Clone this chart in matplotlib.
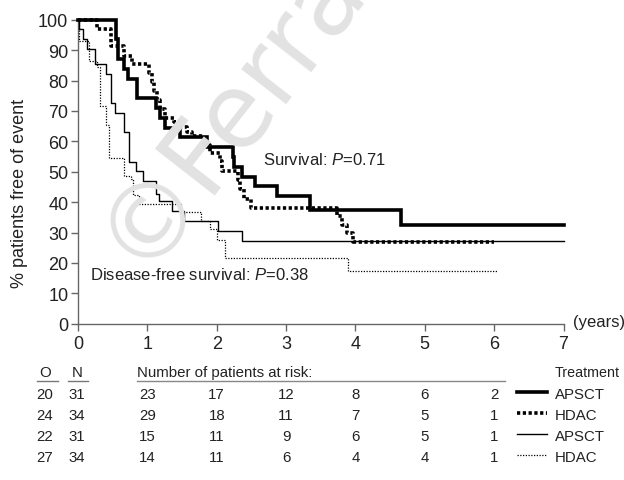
import matplotlib
matplotlib.use("Agg")
import matplotlib.pyplot as plt
import matplotlib.transforms as mtransforms
from matplotlib import font_manager

names = {f.name for f in font_manager.fontManager.ttflist}
FONT = 'Liberation Sans Narrow' if 'Liberation Sans Narrow' in names else 'Liberation Sans'
plt.rcParams['font.family'] = [FONT, 'DejaVu Sans']
plt.rcParams['mathtext.fontset'] = 'custom'
plt.rcParams['mathtext.rm'] = FONT
plt.rcParams['mathtext.it'] = FONT + ':italic'

# ---------------- data ----------------
surv_apsct_t = [0, 0.55, 0.58, 0.66, 0.72, 0.85, 1.13, 1.18, 1.25, 1.47, 1.86, 2.23, 2.25, 2.36, 2.55, 2.87, 3.34, 4.66]
surv_apsct_s = [100, 93.5, 87.1, 83.9, 80.6, 74.2, 71.0, 67.7, 64.5, 61.3, 58.1, 54.8, 51.6, 48.4, 45.2, 41.9, 37.4, 32.5]
surv_apsct_end = 7.0

surv_hdac_t = [0, 0.27, 0.47, 0.66, 0.78, 1.02, 1.06, 1.10, 1.14, 1.18, 1.25, 1.38, 1.48, 1.57, 1.64, 1.82, 1.90, 2.05, 2.08, 2.30, 2.33, 2.40, 2.50, 3.73, 3.80, 3.88, 3.96]
surv_hdac_s = [100, 97.1, 91.2, 88.2, 85.3, 82.4, 79.4, 76.5, 73.5, 70.6, 67.6, 66.5, 64.8, 63.2, 61.8, 58.9, 56.2, 53.4, 50.3, 47.2, 44.2, 41.1, 38.1, 35.4, 32.6, 29.7, 26.8]
surv_hdac_end = 6.0

dfs_apsct_t = [0, 0.02, 0.07, 0.13, 0.24, 0.41, 0.48, 0.53, 0.67, 0.73, 0.84, 0.93, 1.12, 1.17, 1.36, 1.53, 2.02, 2.36]
dfs_apsct_s = [100, 96.8, 93.5, 90.3, 85.4, 82.2, 72.6, 69.3, 63.0, 53.2, 50.3, 47.0, 42.7, 40.5, 37.2, 33.9, 30.6, 27.3]
dfs_apsct_end = 7.0

dfs_hdac_t = [0, 0.02, 0.16, 0.27, 0.32, 0.40, 0.45, 0.67, 0.76, 0.80, 0.88, 1.48, 1.77, 1.90, 2.00, 2.12, 3.89]
dfs_hdac_s = [100, 93.0, 86.5, 84.3, 71.6, 65.5, 54.5, 48.7, 47.6, 42.2, 39.4, 36.7, 33.7, 31.0, 27.6, 21.5, 17.3]
dfs_hdac_end = 6.04

risk_years = [1, 2, 3, 4, 5, 6]
risk_O = [20, 24, 22, 27]
risk_N = [31, 34, 31, 34]
risk_counts = [
    [23, 17, 12, 8, 6, 2],
    [29, 18, 11, 7, 5, 1],
    [15, 11, 9, 6, 5, 1],
    [14, 11, 6, 4, 4, 1],
]
legend_labels = ['APSCT', 'HDAC', 'APSCT', 'HDAC']

# ---------------- figure ----------------
W, H = 624, 481
fig = plt.figure(figsize=(W / 100, H / 100), dpi=100)
ax = fig.add_axes([78 / W, 1 - 324.7 / H, (563.5 - 78) / W, (324.7 - 20.7) / H])

# watermark
fig.text(119 / W, 1 - 255 / H, '\u00a9Ferrata', fontsize=74, color='#e2e2e2',
         rotation=52, rotation_mode='anchor', ha='left', va='center', zorder=0,
         family=['DejaVu Sans'])
ax.patch.set_alpha(0)

thick = 2.6
thin = 1.0
dot_thick = (0, (0.9, 0.7))
dot_thin = (0, (1, 1.2))
TXT = '#222222'

styles = [
    dict(color='black', lw=thick, ls='-', solid_joinstyle='miter'),
    dict(color='black', lw=thick, ls=dot_thick, dash_capstyle='butt'),
    dict(color='black', lw=thin, ls='-'),
    dict(color='black', lw=0.9, ls=dot_thin),
]
curves = [
    (surv_apsct_t, surv_apsct_s, surv_apsct_end),
    (surv_hdac_t, surv_hdac_s, surv_hdac_end),
    (dfs_apsct_t, dfs_apsct_s, dfs_apsct_end),
    (dfs_hdac_t, dfs_hdac_s, dfs_hdac_end),
]
for (t, s, end), st in zip(curves, styles):
    ax.step(list(t) + [end], list(s) + [s[-1]], where='post', clip_on=False, zorder=3, **st)

ax.set_xlim(0, 7)
ax.set_ylim(0, 100)
ax.set_xticks(range(0, 8))
ax.set_yticks(range(0, 101, 10))
for sp in ['top', 'right']:
    ax.spines[sp].set_visible(False)
for sp in ['left', 'bottom']:
    ax.spines[sp].set_color('#666666')
    ax.spines[sp].set_linewidth(1.0)
ax.tick_params(axis='both', direction='out', length=5, width=1.0, color='#666666',
               labelsize=13, labelcolor=TXT)
ax.tick_params(axis='y', pad=2)
ax.tick_params(axis='x', pad=3)

fig.text(20 / W, 1 - 193 / H, '% patients free of event', rotation=90, ha='center', va='center',
         fontsize=13, color=TXT)
fig.text(573 / W, 1 - 323 / H, '(years)', ha='left', va='center', fontsize=12, color=TXT)

fig.text(263 / W, 1 - 160 / H, 'Survival: $\\mathit{P}$=0.71', ha='left', va='center', fontsize=12, color=TXT)
fig.text(90 / W, 1 - 275 / H, 'Disease-free survival: $\\mathit{P}$=0.38', ha='left', va='center', fontsize=12, color=TXT)

# ---------------- risk table ----------------
trans = mtransforms.blended_transform_factory(ax.transData, fig.transFigure)
hdr_y = 1 - 373 / H
row_ys = [1 - y / H for y in (395, 416, 437, 458)]
tfs = 10.8
fig.text(45 / W, hdr_y, 'O', ha='center', va='center', fontsize=tfs, color=TXT)
fig.text(77 / W, hdr_y, 'N', ha='center', va='center', fontsize=tfs, color=TXT)
fig.text(137 / W, hdr_y, 'Number of patients at risk:', ha='left', va='center', fontsize=tfs, color=TXT)
fig.text(555 / W, hdr_y, 'Treatment', ha='left', va='center', fontsize=10.3, color=TXT)
uy = 1 - 381.5 / H
fig.add_artist(plt.Line2D([37 / W, 58 / W], [uy, uy], color='#777777', lw=1))
fig.add_artist(plt.Line2D([68 / W, 88 / W], [uy, uy], color='#777777', lw=1))
fig.add_artist(plt.Line2D([137 / W, 505 / W], [uy, uy], color='#888888', lw=1))

for i, y in enumerate(row_ys):
    fig.text(45 / W, y, str(risk_O[i]), ha='center', va='center', fontsize=tfs, color=TXT)
    fig.text(77 / W, y, str(risk_N[i]), ha='center', va='center', fontsize=tfs, color=TXT)
    for yr, c in zip(risk_years, risk_counts[i]):
        fig.text(yr, y, str(c), transform=trans, ha='center', va='center', fontsize=tfs, color=TXT)
    st = dict(styles[i])
    fig.add_artist(plt.Line2D([517 / W, 547 / W], [y + 2 / H, y + 2 / H], **st))
    fig.text(555 / W, y, legend_labels[i], ha='left', va='center', fontsize=tfs, color=TXT)

fig.savefig('out.png', dpi=100)
